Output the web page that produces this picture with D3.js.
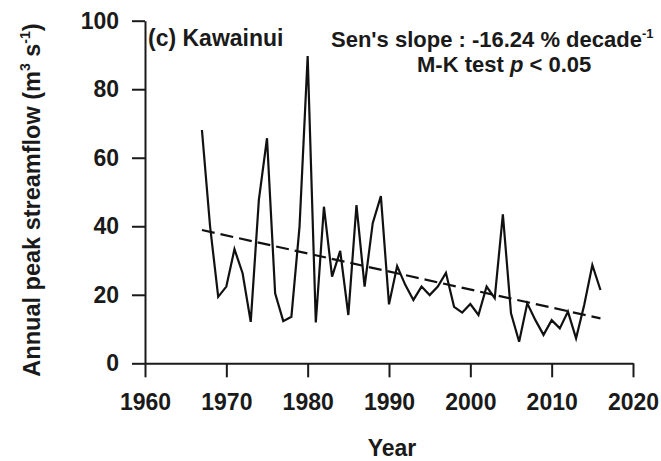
<!DOCTYPE html>
<html>
<head>
<meta charset="utf-8">
<script src="https://cdn.jsdelivr.net/npm/d3@7"></script>
<style>
  body { margin: 0; background: #fff; }
  svg { display: block; font-family: "Liberation Sans", Arial, sans-serif; font-weight: bold; }
  .axis path, .axis line { stroke: #1a1a1a; stroke-width: 2; }
  .axis text { font-size: 23px; font-weight: bold; fill: #1a1a1a; font-family: "Liberation Sans", Arial, sans-serif; }
</style>
</head>
<body>
<svg width="661" height="461"></svg>
<script>
// annual peak streamflow, Kawainui (m3/s)
const years = [
  1967, 1968, 1969, 1970, 1971, 1972, 1973, 1974, 1975, 1976,
  1977, 1978, 1979, 1980, 1981, 1982, 1983, 1984, 1985, 1986,
  1987, 1988, 1989, 1990, 1991, 1992, 1993, 1994, 1995, 1996,
  1997, 1998, 1999, 2000, 2001, 2002, 2003, 2004, 2005, 2006,
  2007, 2008, 2009, 2010, 2011, 2012, 2013, 2014, 2015, 2016
];
const peakFlow = [
  68.1, 40.0, 19.4, 22.4, 33.3, 26.3, 12.1, 47.7, 65.7, 20.4,
  12.3, 13.6, 39.9, 89.7, 11.9, 45.7, 25.3, 32.8, 14.1, 46.2,
  22.4, 40.9, 48.8, 17.2, 28.4, 22.9, 18.5, 22.4, 19.9, 22.4,
  26.4, 16.5, 14.8, 17.3, 14.1, 22.4, 19.0, 43.5, 14.6, 6.3,
  17.5, 12.6, 8.3, 12.6, 10.2, 15.1, 7.3, 17.0, 28.7, 21.4
];

// Sen's slope trend line end points
const trendYears = [1967, 2016];
const trendValues = [38.9, 13.1];

const xTicks = [1960, 1970, 1980, 1990, 2000, 2010, 2020];
const yTicks = [0, 20, 40, 60, 80, 100];

const svg = d3.select("svg");

// scales
const x = d3.scaleLinear().domain([1960, 2020]).range([145, 633]);
const y = d3.scaleLinear().domain([0, 100]).range([363.3, 20.7]);

// axes
svg.append("g")
  .attr("class", "axis")
  .attr("transform", "translate(0," + y(0) + ")")
  .call(d3.axisBottom(x)
    .tickValues(xTicks)
    .tickFormat(d3.format("d"))
    .tickSize(14)
    .tickSizeOuter(0)
    .tickPadding(16));

svg.append("g")
  .attr("class", "axis")
  .attr("transform", "translate(" + x(1960) + ",0)")
  .call(d3.axisLeft(y)
    .tickValues(yTicks)
    .tickSize(13)
    .tickSizeOuter(0)
    .tickPadding(13));

// data line
const line = d3.line()
  .x(function(d) { return x(d[0]); })
  .y(function(d) { return y(d[1]); });

svg.append("path")
  .datum(d3.zip(years, peakFlow))
  .attr("d", line)
  .attr("fill", "none")
  .attr("stroke", "#111")
  .attr("stroke-width", 2.2)
  .attr("stroke-linejoin", "miter");

// trend line
svg.append("path")
  .datum(d3.zip(trendYears, trendValues))
  .attr("d", line)
  .attr("fill", "none")
  .attr("stroke", "#111")
  .attr("stroke-width", 2.2)
  .attr("stroke-dasharray", "13,6");

// annotations
svg.append("text")
  .attr("x", 148)
  .attr("y", 46)
  .attr("font-size", 23)
  .attr("fill", "#1a1a1a")
  .text("(c) Kawainui");

const sen = svg.append("text")
  .attr("x", 331)
  .attr("y", 47)
  .attr("font-size", 22)
  .attr("fill", "#1a1a1a");
sen.append("tspan").text("Sen's slope : -16.24 % decade");
sen.append("tspan").attr("dy", -9).attr("font-size", 13).text("-1");

const mk = svg.append("text")
  .attr("x", 417)
  .attr("y", 72)
  .attr("font-size", 22)
  .attr("fill", "#1a1a1a");
mk.append("tspan").text("M-K test ");
mk.append("tspan").attr("font-style", "italic").text("p");
mk.append("tspan").text(" < 0.05");

// axis titles
svg.append("text")
  .attr("x", 392)
  .attr("y", 456)
  .attr("text-anchor", "middle")
  .attr("font-size", 23)
  .attr("fill", "#1a1a1a")
  .text("Year");

const yl = svg.append("text")
  .attr("transform", "translate(40,200) rotate(-90)")
  .attr("text-anchor", "middle")
  .attr("font-size", 23.5)
  .attr("fill", "#1a1a1a");
yl.append("tspan").text("Annual peak streamflow (m");
yl.append("tspan").attr("dy", -10).attr("font-size", 14).text("3");
yl.append("tspan").attr("dy", 10).text(" s");
yl.append("tspan").attr("dy", -10).attr("font-size", 14).text("-1");
yl.append("tspan").attr("dy", 10).text(")");
</script>
</body>
</html>
